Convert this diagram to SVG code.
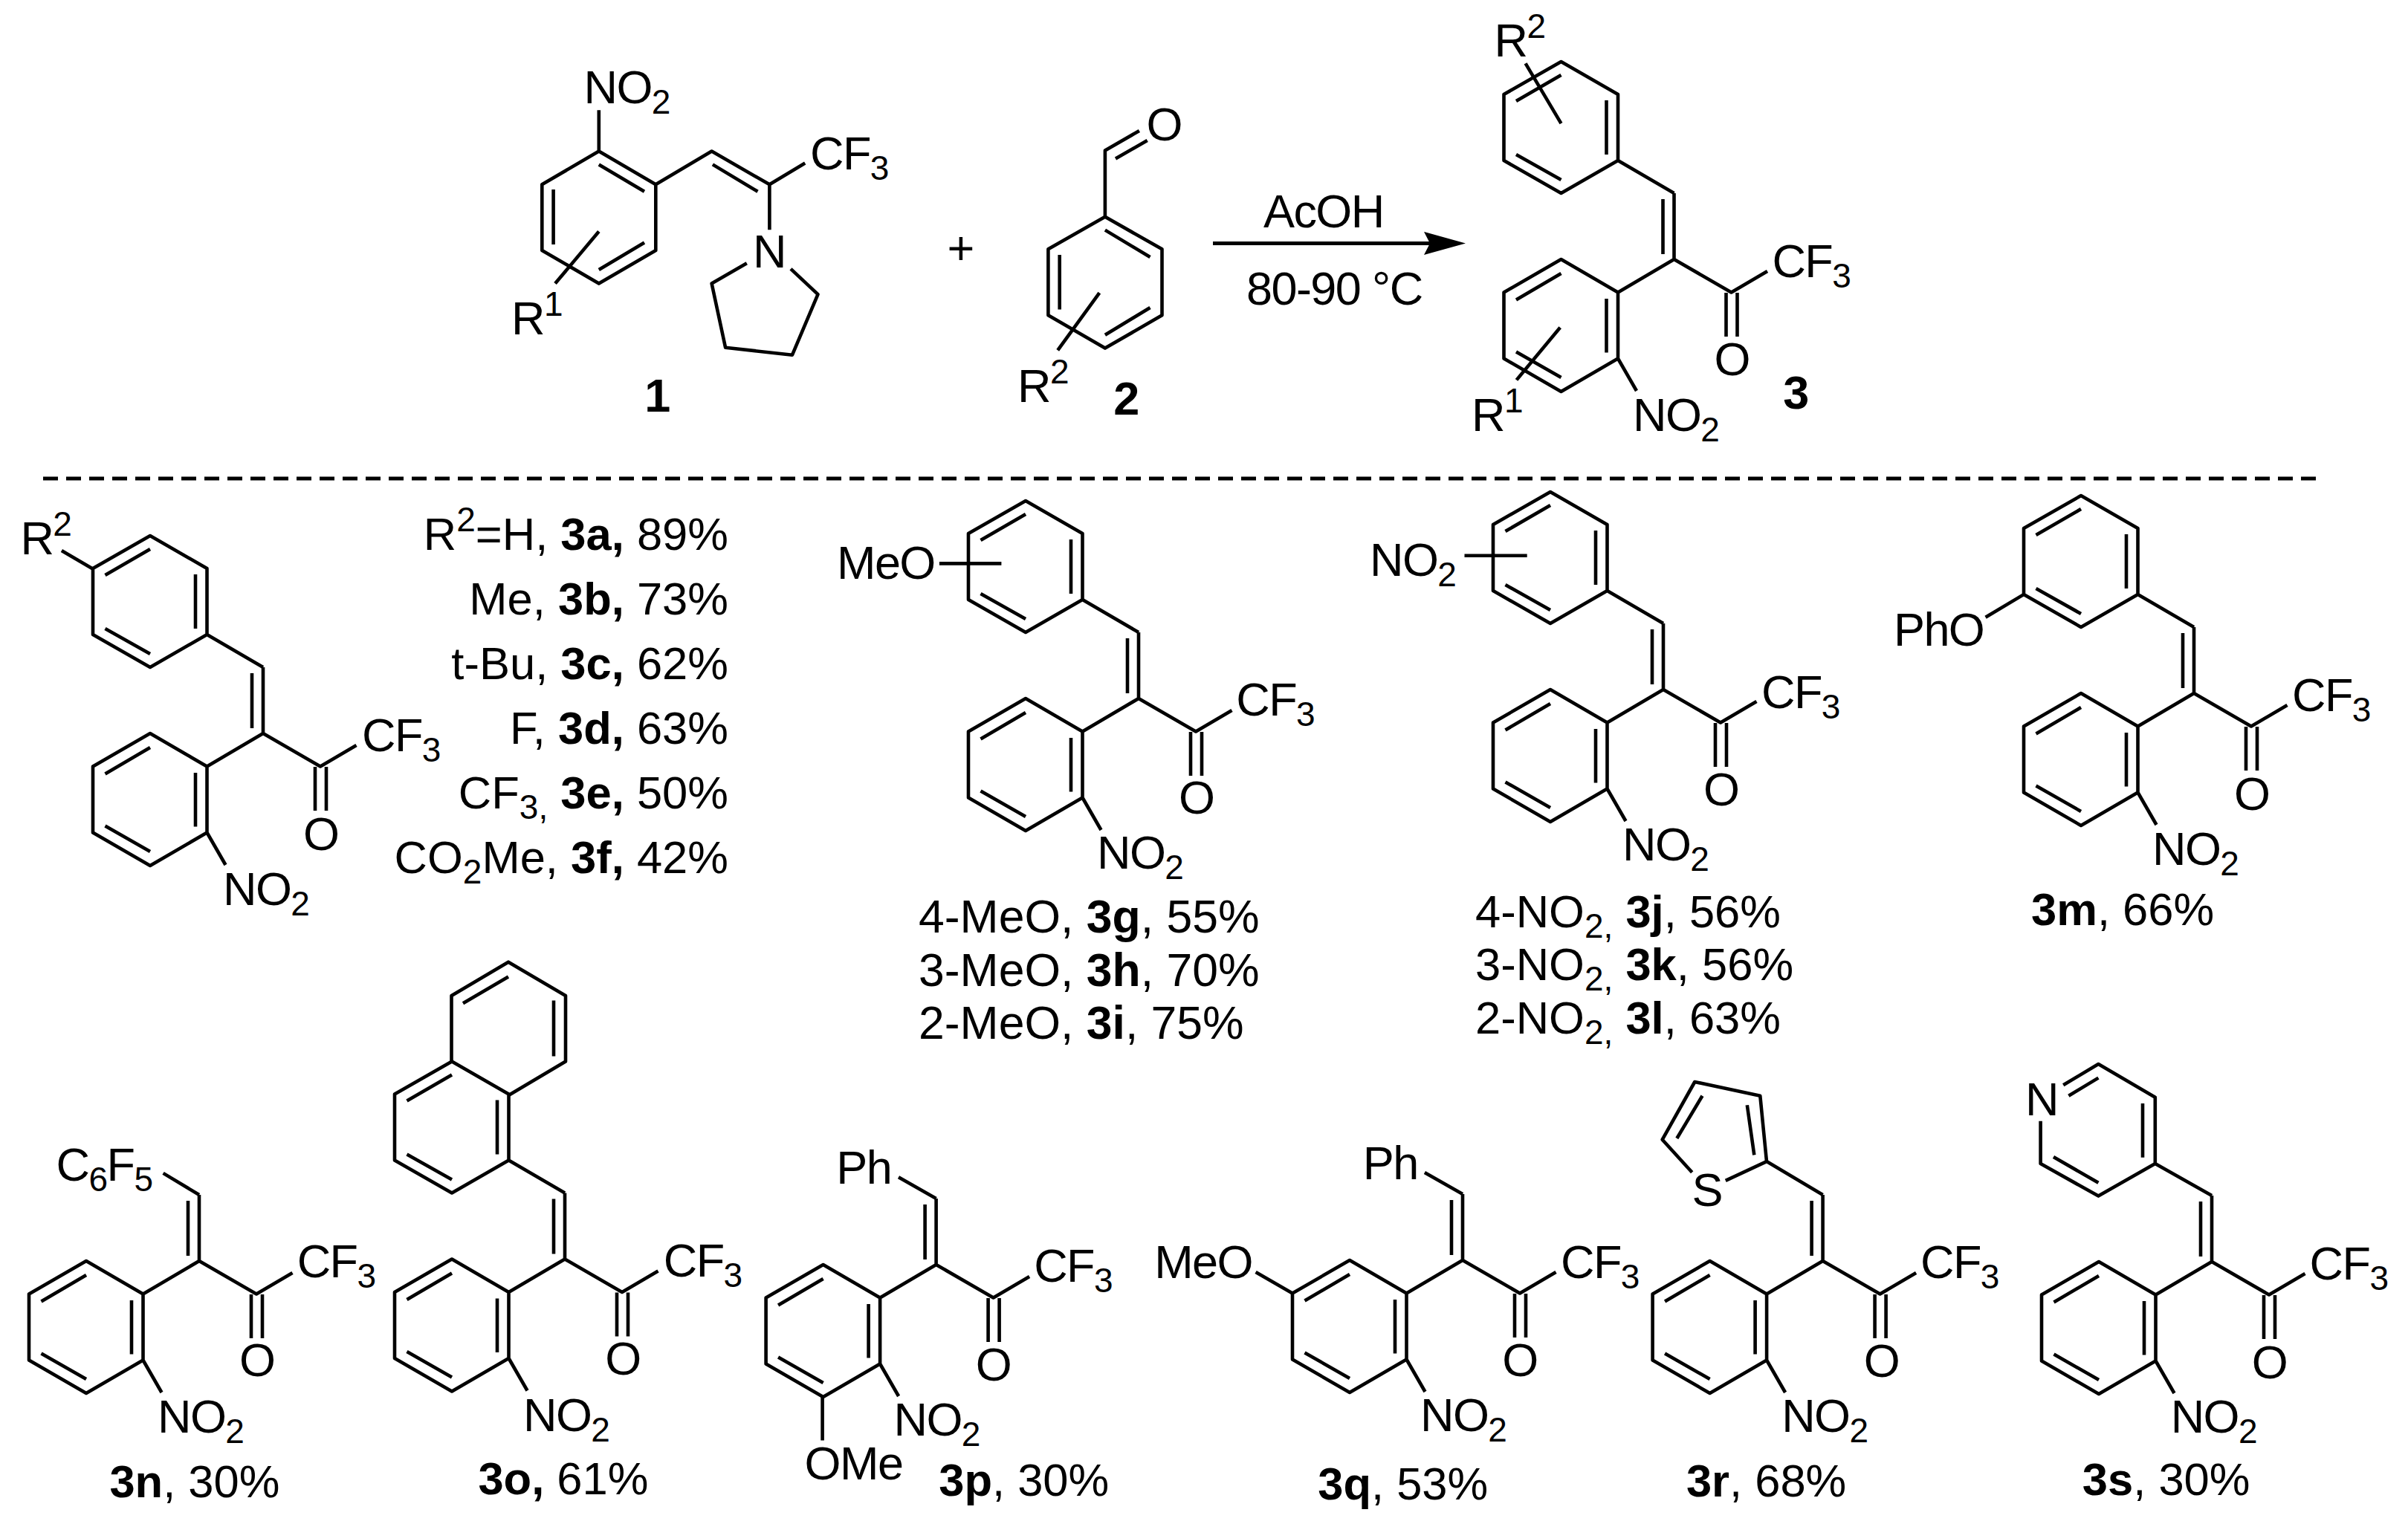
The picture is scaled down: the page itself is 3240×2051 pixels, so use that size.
<svg xmlns="http://www.w3.org/2000/svg" xmlns:xlink="http://www.w3.org/1999/xlink" width="3240" height="2051" viewBox="0 0 3240 2051">
<style>
text{font-family:"Liberation Sans",Arial,sans-serif;font-size:63px;letter-spacing:-1.6px;fill:#000}
text.l{font-size:61.5px;letter-spacing:0}
.s{font-size:46px}
.b{font-weight:bold}
.e{text-anchor:end}
.m{text-anchor:middle}
path{fill:none;stroke:#000;stroke-width:4.6;stroke-linejoin:round}
</style>
<defs>
<marker id="head" viewBox="0 0 56 31" refX="8" refY="15.5" markerWidth="56" markerHeight="31" markerUnits="userSpaceOnUse" orient="auto"><polygon points="0,0 56,15.5 0,31 8,15.5" fill="#000"/></marker>
<g id="core"><path d="M-152,0L-75.5,44.5V133.5L-152,178L-229,133.5V44.5Z M-152,19L-212.5,54.5 M-91,53V125.5 M-152,159L-212.5,124.5 M-75.5,44.5L0,0L77,44.5L125.5,16 M0,0V-89 M-15,-7V-81 M70,45V104 M85,45V104 M-75.5,133.5L-50.5,177"/></g>
<g id="ph"><path d="M-75.5,-133L-152,-89L-229,-133V-222L-152,-266L-75.5,-222Z M-152,-248L-212.5,-213 M-91,-214V-141 M-152,-107L-212.5,-141 M0,-89L-75.5,-133"/></g>
</defs>
<rect width="3240" height="2051" fill="#fff"/>
<g id="connectors">
<path id="reaction-arrow" d="M1632,327.4H1924" style="stroke-width:5" marker-end="url(#head)"/>
<path id="divider" d="M58,644H3126" style="stroke-width:5;stroke-dasharray:20 11"/>
</g>
<g id="conditions">
<text x="1700" y="306">AcOH</text>
<text x="1677" y="410">80-90 °C</text>
</g>
<g id="compound-1">
<path d="M805.8,203.6L882.3,248.3V336.9L805.8,381.6L729.3,336.9V248.3Z M805.8,221.4L867,257.8 M867,326.6L805.8,363 M744.6,255V329 M805.8,311.6L747,381.6 M805.8,203.6V148.3 M882.3,248.3L957.6,203.6L1035.4,248.3L1083.2,219.5 M958.9,221.4L1019.5,257.8 M1035.4,248.3V309.2 M1004.8,354.3L957.6,381.6L976.1,467.8L1066,477.7L1100.5,396.2L1064,361.8"/>
<text x="785.5" y="139">NO<tspan class="s" dy="14">2</tspan></text>
<text x="1090" y="228">CF<tspan class="s" dy="14">3</tspan></text>
<text x="1013" y="360">N</text>
<text x="688" y="450">R<tspan class="s" dy="-25">1</tspan></text>
<text class="b m" x="884" y="554">1</text>
</g>
<text id="plus" class="m" x="1292" y="356">+</text>
<g id="compound-2">
<path d="M1486.9,291.8L1563.5,335.3V424.3L1486.9,468.6L1410.4,424.3V335.3Z M1486.9,309.6L1547.5,346 M1547.5,414L1486.9,450.8 M1425.7,343V416.4 M1479.3,394.2L1423.2,471.3 M1486.9,291.8V202.5L1532.9,176 M1501,213.5L1543.7,189"/>
<text x="1542.6" y="189">O</text>
<text x="1369" y="541">R<tspan class="s" dy="-25">2</tspan></text>
<text class="b m" x="1515" y="557.5">2</text>
</g>
<g id="compound-3">
<use href="#core" x="2252.5" y="349"/><use href="#ph" x="2252.5" y="349"/>
<path d="M2052.6,85.4L2100.5,166.2 M2099.2,440.7L2040.5,511.4"/>
<text x="2010.5" y="76">R<tspan class="s" dy="-25">2</tspan></text>
<text x="2384.4" y="372.5">CF<tspan class="s" dy="14">3</tspan></text>
<text x="2306.6" y="505">O</text>
<text x="2197" y="580">NO<tspan class="s" dy="14">2</tspan></text>
<text x="1980" y="580">R<tspan class="s" dy="-25">1</tspan></text>
<text class="b m" x="2416" y="550">3</text>
</g>
<g id="compound-3a">
<use href="#core" x="354" y="987"/><use href="#ph" x="354" y="987"/>
<path d="M82.9,741.1L125.6,766"/>
<text x="27.4" y="746">R<tspan class="s" dy="-25">2</tspan></text>
<text x="487" y="1011">CF<tspan class="s" dy="14">3</tspan></text>
<text x="408" y="1144">O</text>
<text x="300" y="1217.6">NO<tspan class="s" dy="14">2</tspan></text>
</g>
<g id="labels-3a-3f">
<text class="l e" x="980" y="740.4">R<tspan class="s" dy="-25">2</tspan><tspan dy="25">=H, </tspan><tspan class="b">3a,</tspan> 89%</text>
<text class="l e" x="980" y="827">Me, <tspan class="b">3b,</tspan> 73%</text>
<text class="l e" x="980" y="913.7">t-Bu, <tspan class="b">3c,</tspan> 62%</text>
<text class="l e" x="980" y="1000.6">F, <tspan class="b">3d,</tspan> 63%</text>
<text class="l e" x="980" y="1087.9">CF<tspan class="s" dy="14">3,</tspan><tspan dy="-14"> </tspan><tspan class="b">3e,</tspan> 50%</text>
<text class="l e" x="980" y="1174.7">CO<tspan class="s" dy="14">2</tspan><tspan dy="-14">Me, </tspan><tspan class="b">3f,</tspan> 42%</text>
</g>
<g id="compound-3g-i">
<use href="#core" x="1532" y="940"/><use href="#ph" x="1532" y="940"/>
<path d="M1263.9,758.4H1347.4"/>
<text x="1126" y="779">MeO</text>
<text x="1663.3" y="963">CF<tspan class="s" dy="14">3</tspan></text>
<text x="1586" y="1095">O</text>
<text x="1476" y="1169">NO<tspan class="s" dy="14">2</tspan></text>
<text class="l" x="1236" y="1255" style="font-size:62.5px">4-MeO, <tspan class="b">3g</tspan>, 55%</text>
<text class="l" x="1236" y="1326.5" style="font-size:62.5px">3-MeO, <tspan class="b">3h</tspan>, 70%</text>
<text class="l" x="1236" y="1398" style="font-size:62.5px">2-MeO, <tspan class="b">3i</tspan>, 75%</text>
</g>
<g id="compound-3j-l">
<use href="#core" x="2238" y="928"/><use href="#ph" x="2238" y="928"/>
<path d="M1970.5,747.7H2054.7"/>
<text x="1843" y="775.4">NO<tspan class="s" dy="14">2</tspan></text>
<text x="2370" y="952.6">CF<tspan class="s" dy="14">3</tspan></text>
<text x="2292" y="1084">O</text>
<text x="2183" y="1158">NO<tspan class="s" dy="14">2</tspan></text>
<text class="l" x="1985" y="1247.5">4-NO<tspan class="s" dy="14">2,</tspan><tspan dy="-14"> </tspan><tspan class="b">3j</tspan>, 56%</text>
<text class="l" x="1985" y="1319">3-NO<tspan class="s" dy="14">2,</tspan><tspan dy="-14"> </tspan><tspan class="b">3k</tspan>, 56%</text>
<text class="l" x="1985" y="1390.5">2-NO<tspan class="s" dy="14">2,</tspan><tspan dy="-14"> </tspan><tspan class="b">3l</tspan>, 63%</text>
</g>
<g id="compound-3m">
<use href="#core" x="2952" y="933"/><use href="#ph" x="2952" y="933"/>
<path d="M2722.4,800.4L2671.6,830.8"/>
<text x="2548" y="869">PhO</text>
<text x="3084" y="957">CF<tspan class="s" dy="14">3</tspan></text>
<text x="3006" y="1090">O</text>
<text x="2896" y="1164">NO<tspan class="s" dy="14">2</tspan></text>
<text class="l" x="2733" y="1245"><tspan class="b">3m</tspan>, 66%</text>
</g>
<g id="compound-3n">
<use href="#core" x="268" y="1697"/>
<path d="M268,1608L219.6,1578.9"/>
<text x="75.6" y="1588.7">C<tspan class="s" dy="14">6</tspan><tspan dy="-14">F</tspan><tspan class="s" dy="14">5</tspan></text>
<text x="399.7" y="1719">CF<tspan class="s" dy="14">3</tspan></text>
<text x="322" y="1851.8">O</text>
<text x="212" y="1927.5">NO<tspan class="s" dy="14">2</tspan></text>
<text class="l" x="147.4" y="2015"><tspan class="b">3n</tspan>, 30%</text>
</g>
<g id="compound-3o">
<use href="#core" x="760" y="1694.5"/><use href="#ph" x="760" y="1694.5"/>
<path d="M607.5,1428.5V1340L684,1294.7L761,1340V1428.5L684,1474.2 M684,1314.4L623,1350.3 M745,1346.4V1421.6"/>
<text x="892.8" y="1717.6">CF<tspan class="s" dy="14">3</tspan></text>
<text x="814.3" y="1850">O</text>
<text x="704" y="1925.5">NO<tspan class="s" dy="14">2</tspan></text>
<text class="l" x="643.4" y="2011"><tspan class="b">3o,</tspan> 61%</text>
</g>
<g id="compound-3p">
<use href="#core" x="1259.6" y="1702"/>
<path d="M1259.6,1613L1209,1584.3 M1106.6,1880V1938.5"/>
<text x="1125.3" y="1593">Ph</text>
<text x="1391.2" y="1724.9">CF<tspan class="s" dy="14">3</tspan></text>
<text x="1312.7" y="1858.4">O</text>
<text x="1202.5" y="1932.2">NO<tspan class="s" dy="14">2</tspan></text>
<text x="1082.6" y="1990.9">OMe</text>
<text class="l" x="1263.2" y="2013"><tspan class="b">3p</tspan>, 30%</text>
</g>
<g id="compound-3q">
<use href="#core" x="1968" y="1696"/>
<path d="M1968,1607L1916.9,1578 M1739,1740.5L1689.6,1711.9"/>
<text x="1833.8" y="1586.8">Ph</text>
<text x="1553.2" y="1719.6">MeO</text>
<text x="2100" y="1720">CF<tspan class="s" dy="14">3</tspan></text>
<text x="2021.2" y="1852">O</text>
<text x="1911" y="1926.2">NO<tspan class="s" dy="14">2</tspan></text>
<text class="l" x="1773.2" y="2018.3"><tspan class="b">3q</tspan>, 53%</text>
</g>
<g id="compound-3r">
<use href="#core" x="2452.6" y="1697"/>
<path d="M2452.6,1608L2377,1563.1L2368.3,1474.7L2280.3,1456L2236.7,1533.7L2276.7,1577.7 M2377,1563.1L2321.8,1588.9 M2350.8,1487.2L2360.3,1554.4 M2290.5,1474.7L2256.3,1532"/>
<text x="2276.6" y="1622.9">S</text>
<text x="2584" y="1719.6">CF<tspan class="s" dy="14">3</tspan></text>
<text x="2507.8" y="1852.5">O</text>
<text x="2397.2" y="1927.2">NO<tspan class="s" dy="14">2</tspan></text>
<text class="l" x="2268.9" y="2013.5"><tspan class="b">3r</tspan>, 68%</text>
</g>
<g id="compound-3s">
<use href="#core" x="2976" y="1698"/>
<path d="M2976,1609L2899.8,1566V1476.8L2823.4,1432L2776.2,1460.2 M2899.8,1566L2823.4,1609.6L2745.6,1566V1508.8 M2823.4,1450.6L2783.4,1474.7 M2883,1485V1557.7 M2823.4,1591.8L2763,1557"/>
<text x="2725.1" y="1500.9">N</text>
<text x="3107.6" y="1721.7">CF<tspan class="s" dy="14">3</tspan></text>
<text x="3029.8" y="1854.5">O</text>
<text x="2920.7" y="1928.4">NO<tspan class="s" dy="14">2</tspan></text>
<text class="l" x="2801.8" y="2012.3"><tspan class="b">3s</tspan>, 30%</text>
</g>
</svg>
